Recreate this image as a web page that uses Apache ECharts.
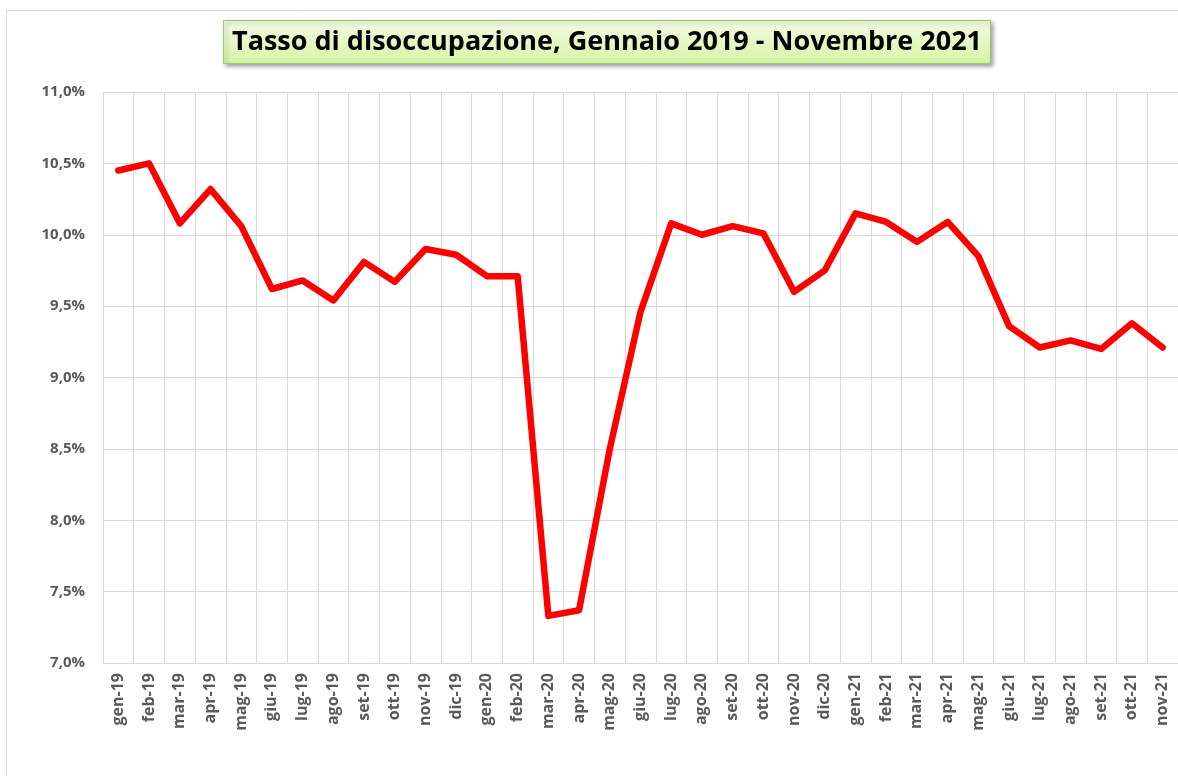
<!DOCTYPE html>
<html>
<head>
<meta charset="utf-8">
<script src="https://cdn.jsdelivr.net/npm/echarts@6/dist/echarts.min.js"></script>
<style>
  html, body { margin: 0; padding: 0; background: #fff; }
  #main { width: 1178px; height: 776px; }
</style>
</head>
<body>
<div id="main"></div>
<script>
  var myChart = echarts.init(document.getElementById('main'));

  // mesi (gen-19 ... nov-21)
  let months = ['gen-19','feb-19','mar-19','apr-19','mag-19','giu-19','lug-19','ago-19','set-19','ott-19','nov-19','dic-19',
                'gen-20','feb-20','mar-20','apr-20','mag-20','giu-20','lug-20','ago-20','set-20','ott-20','nov-20','dic-20',
                'gen-21','feb-21','mar-21','apr-21','mag-21','giu-21','lug-21','ago-21','set-21','ott-21','nov-21'];

  // tasso di disoccupazione, %
  let rate2019 = [10.45, 10.50, 10.08, 10.32, 10.06, 9.62, 9.68, 9.54, 9.81, 9.67, 9.90, 9.86];
  let rate2020 = [9.71, 9.71, 7.33, 7.37, 8.50, 9.46, 10.08, 10.00, 10.06, 10.01, 9.60, 9.75];
  let rate2021 = [10.15, 10.09, 9.95, 10.09, 9.85, 9.36, 9.21, 9.26, 9.20, 9.38, 9.21];

  let rates = rate2019.concat(rate2020, rate2021);

  let titleText = 'Tasso di disoccupazione, Gennaio 2019 - Novembre 2021';
  let gridColor = '#d9d9d9';
  let labelColor = '#595959';

  var option = {
    textStyle: { fontFamily: 'Open Sans' },
    title: {
      text: titleText,
      left: 223,
      top: 20,
      padding: [6, 9, 6, 9],
      backgroundColor: new echarts.graphic.LinearGradient(0, 0, 0, 1, [
        { offset: 0, color: '#f2fbe4' },
        { offset: 1, color: '#d6f5a4' }
      ]),
      borderColor: '#9cc96a',
      borderWidth: 1,
      shadowColor: 'rgba(0,0,0,0.35)',
      shadowBlur: 4,
      shadowOffsetX: 2,
      shadowOffsetY: 2,
      textStyle: {
        fontFamily: 'Open Sans',
        fontWeight: 'bold',
        fontSize: 27,
        lineHeight: 32,
        color: '#000'
      }
    },
    graphic: [{
      type: 'rect',
      z: -10,
      shape: { x: 6.5, y: 10.5, width: 1300, height: 900 },
      style: { fill: '#fff', stroke: gridColor, lineWidth: 1 }
    }],
    grid: { left: 103, right: -3, top: 92, bottom: 113 },
    xAxis: {
      type: 'category',
      data: months,
      boundaryGap: true,
      axisTick: { show: false },
      axisLine: { lineStyle: { color: gridColor, width: 1 } },
      splitLine: { show: true, lineStyle: { color: gridColor, width: 1 } },
      axisLabel: {
        interval: 0,
        rotate: 90,
        margin: 10,
        color: labelColor,
        fontWeight: 'bold',
        fontSize: 16
      }
    },
    yAxis: {
      type: 'value',
      min: 7,
      max: 11,
      interval: 0.5,
      axisLine: { show: false },
      axisTick: { show: false },
      splitLine: { lineStyle: { color: gridColor, width: 1 } },
      axisLabel: {
        margin: 18,
        color: labelColor,
        fontWeight: 'bold',
        fontSize: 15,
        formatter: function (v) { return v.toFixed(1).replace('.', ',') + '%'; }
      }
    },
    series: [{
      name: 'Tasso di disoccupazione',
      type: 'line',
      data: rates,
      symbol: 'none',
      lineStyle: { color: '#ff0000', width: 6.5, join: 'round', cap: 'round' },
      animation: false
    }],
    animation: false
  };

  myChart.setOption(option);
</script>
</body>
</html>
